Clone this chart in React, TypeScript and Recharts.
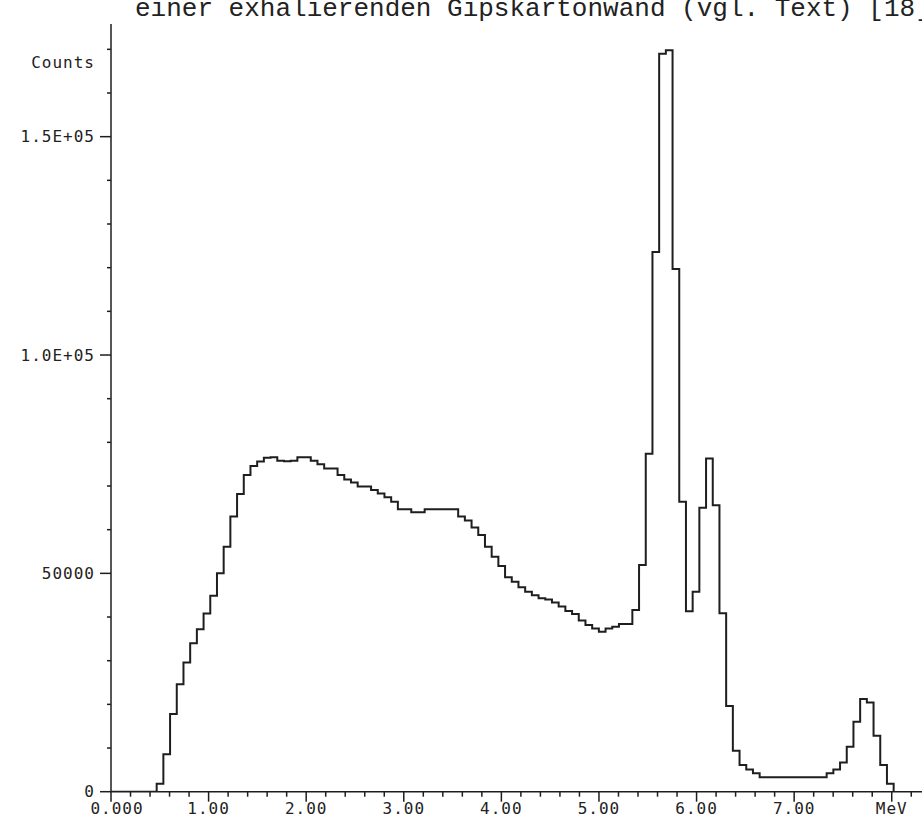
import { LineChart, Line, XAxis, YAxis } from 'recharts';

// channel geometry
const binStart = 0.468; // MeV, left edge of first channel
const binWidth = 0.06865; // MeV per channel

// counts per channel, left to right
const counts = [
  1800, 8600, 17800, 24600, 29600, 34000, 37200, 40800, 44900, 50000,
  56100, 63000, 68200, 72500, 74600, 75600, 76500, 76600, 75800, 75700,
  75800, 76600, 76600, 75800, 75000, 74000, 74000, 72500, 71500, 70800,
  69900, 69900, 69100, 68300, 67400, 66400, 64700, 64700, 64000, 64000,
  64700, 64700, 64700, 64700, 64700, 63000, 62100, 60500, 58800, 56100,
  53800, 51700, 49100, 48100, 46800, 45800, 45000, 44300, 44000, 43300,
  42400, 41400, 40700, 39200, 38200, 37400, 36600, 37400, 37800, 38400,
  38400, 41600, 51900, 77400, 123600, 169000, 169800, 119700, 66400, 41300,
  45800, 65000, 76300, 65600, 40850, 19600, 9400, 6100, 5100, 4200,
  3300, 3300, 3300, 3300, 3300, 3300, 3300, 3300, 3300, 3300,
  4200, 5100, 6700, 10300, 16000, 21200, 20400, 12800, 6100, 1800,
];

const xMajor = [0, 1, 2, 3, 4, 5, 6, 7, 8];
const xLabels = ['0.000', '1.00', '2.00', '3.00', '4.00', '5.00', '6.00', '7.00', 'MeV'];
const yMajor = [0, 50000, 100000, 150000];
const yLabels = ['0', '50000', '1.0E+05', '1.5E+05'];
const title = 'einer exhalierenden Gipskartonwand (vgl. Text) [18]';

const xTicks = Array.from({ length: 42 }, (_, i) => Math.round(i * 2) / 10);
const yTicks = Array.from({ length: 18 }, (_, i) => i * 10000);

const data = [
  { e: 0, c: 0 },
  ...counts.map((c, i) => ({ e: binStart + i * binWidth, c })),
  { e: binStart + counts.length * binWidth, c: 0 },
];

const ink = '#1e1e1e';
const tickFont = {
  fontFamily: '"DejaVu Sans Mono", monospace',
  fontSize: 16,
  letterSpacing: 1,
  fill: '#222',
};

function XTick(props: any) {
  const { x, y, payload } = props;
  const idx = xMajor.findIndex((m) => Math.abs(m - payload.value) < 1e-6);
  const major = idx >= 0;
  return (
    <g>
      <line x1={x} x2={x} y1={y} y2={y + (major ? 10 : 5)} stroke={ink} strokeWidth={1.5} />
      {major && (
        <text x={x + (idx === 0 ? 6 : 0)} y={y + 17} textAnchor="middle" dominantBaseline="central" style={tickFont}>
          {xLabels[idx]}
        </text>
      )}
    </g>
  );
}

function YTick(props: any) {
  const { x, y, payload } = props;
  const idx = yMajor.indexOf(payload.value);
  const major = idx >= 0;
  return (
    <g>
      <line x1={x - (major ? 11 : 4)} x2={x} y1={y} y2={y} stroke={ink} strokeWidth={1.5} />
      {major && (
        <text x={x - 16} y={y} textAnchor="end" dominantBaseline="central" style={tickFont}>
          {yLabels[idx]}
        </text>
      )}
    </g>
  );
}

export default function App() {
  return (
    <div
      style={{
        position: 'absolute',
        left: 0,
        top: 0,
        width: 922,
        height: 823,
        overflow: 'hidden',
        background: '#fff',
      }}
    >
      <div
        style={{
          position: 'absolute',
          left: 135,
          top: -4,
          fontFamily: '"Liberation Mono", monospace',
          fontSize: 26,
          lineHeight: '26px',
          color: '#222',
          whiteSpace: 'nowrap',
        }}
      >
        {title}
      </div>
      <div
        style={{
          position: 'absolute',
          left: 0,
          width: 95,
          top: 54,
          textAlign: 'right',
          fontFamily: '"DejaVu Sans Mono", monospace',
          fontSize: 16,
          letterSpacing: 1,
          lineHeight: '18px',
          color: '#222',
        }}
      >
        Counts
      </div>
      <LineChart width={922} height={823} data={data} margin={{ top: 24, right: 0, bottom: 0, left: 0 }}>
        <XAxis
          type="number"
          dataKey="e"
          domain={[0, 8.31]}
          ticks={xTicks}
          interval={0}
          tickSize={0}
          tickMargin={0}
          tickLine={false}
          axisLine={{ stroke: ink, strokeWidth: 1.5 }}
          height={31.3}
          tick={XTick}
          allowDataOverflow
        />
        <YAxis
          type="number"
          domain={[0, 175800]}
          ticks={yTicks}
          interval={0}
          tickSize={0}
          tickMargin={0}
          tickLine={false}
          axisLine={{ stroke: ink, strokeWidth: 1.5 }}
          width={111}
          tick={YTick}
          allowDataOverflow
        />
        <Line
          type="stepAfter"
          dataKey="c"
          stroke={ink}
          strokeWidth={2}
          dot={false}
          isAnimationActive={false}
        />
      </LineChart>
    </div>
  );
}
